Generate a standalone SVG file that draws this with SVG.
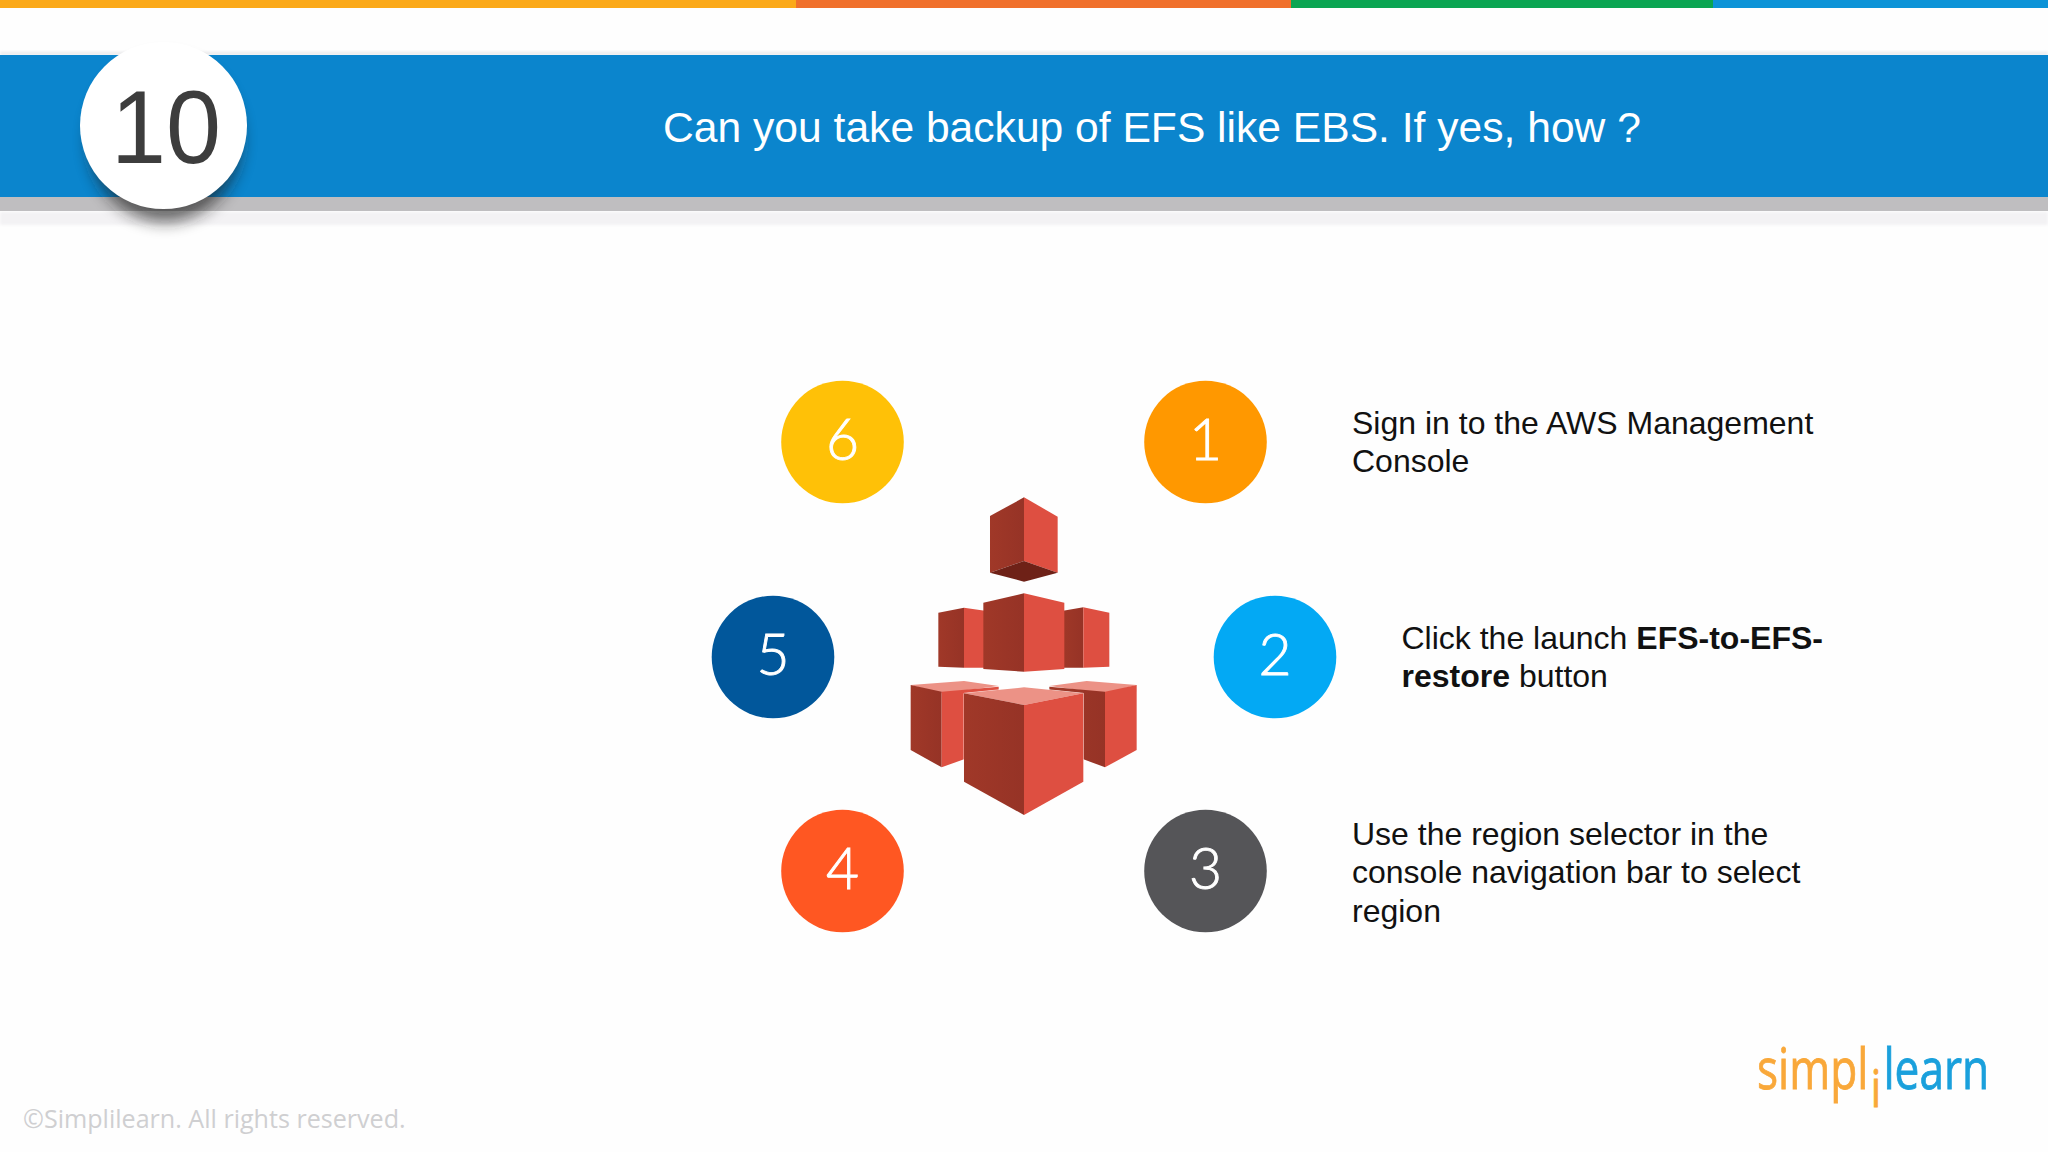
<svg xmlns="http://www.w3.org/2000/svg" width="2048" height="1152" viewBox="0 0 2048 1152">
<style>
.b{font-family:"Liberation Sans",Arial,sans-serif;font-size:32px;fill:#111}
.n{font-family:Lato,"Open Sans",sans-serif;font-size:57px;font-weight:300;fill:#fff;stroke:#fff;stroke-width:.9px;text-anchor:middle}
.l{fill:url(#lf)}.r{fill:#DE4F41}.t{fill:#EC9286}
</style>
<defs>
<linearGradient id="lf" x1="0" y1="0" x2="1" y2="0"><stop offset="0" stop-color="#A03828"/><stop offset="1" stop-color="#963326"/></linearGradient>
<filter id="s" x="-40%" y="-40%" width="180%" height="180%"><feGaussianBlur stdDeviation="8"/></filter>
<filter id="s2" x="-5%" y="-100%" width="110%" height="300%"><feGaussianBlur stdDeviation="1.5"/></filter>
</defs>
<rect width="2048" height="1152" fill="#fefefe"/>
<g id="stripes">
<rect x="0" y="0" width="796" height="8" fill="#FBA919"/>
<rect x="796" y="0" width="495" height="8" fill="#F0702C"/>
<rect x="1291" y="0" width="422" height="8" fill="#0BA552"/>
<rect x="1713" y="0" width="335" height="8" fill="#0D93D7"/>
</g>
<g id="header">
<rect x="0" y="52" width="2048" height="3" fill="#E8E8EA" filter="url(#s2)"/>
<rect x="0" y="212" width="2048" height="13" fill="#F3F2F4" filter="url(#s2)"/>
<rect x="0" y="197" width="2048" height="14" fill="#BFBEC0"/>
<rect x="0" y="55" width="2048" height="142" fill="#0B85CD"/>
<text x="1152" y="142" text-anchor="middle" font-family="Liberation Sans, Arial, sans-serif" font-size="42.6" fill="#fff">Can you take backup of EFS like EBS. If yes, how ?</text>
</g>
<g id="badge">
<ellipse cx="165" cy="140" rx="76" ry="82" fill="#1a1a1a" opacity=".65" filter="url(#s)"/>
<circle cx="163.500" cy="125.500" r="83.500" fill="#fff"/>
<text x="166" y="163" text-anchor="middle" font-family="Liberation Sans, Arial, sans-serif" font-size="104" fill="#3D3D3D" textLength="110" lengthAdjust="spacingAndGlyphs">10</text>
</g>
<g id="cubes" transform="translate(890 480) scale(.33333)">
<g id="cube-top">
<polygon class="l" points="402,52 300,108 300,278 402,243"/>
<polygon class="r" points="402,52 503,110 503,278 402,243"/>
<polygon fill="#6E2117" points="300,278 402,243 503,278 402,305"/>
</g>
<g id="cube-mid-left">
<polygon class="l" points="145,398 222,383 222,563 145,560"/>
<polygon class="r" points="222,383 290,393 290,563 222,563"/>
</g>
<g id="cube-mid-right">
<polygon class="l" points="515,393 580,382 580,563 515,563"/>
<polygon class="r" points="580,382 658,398 658,560 580,563"/>
</g>
<g id="cube-mid">
<polygon class="l" points="402,340 280,368 280,567 402,575"/>
<polygon class="r" points="402,340 523,368 523,567 402,575"/>
</g>
<g id="cube-low-left">
<polygon class="t" points="62,615 222,603 326,618 155,640"/>
<polygon class="l" points="62,615 155,635 155,862 62,810"/>
<polygon class="r" points="155,635 326,620 326,800 155,862"/>
</g>
<g id="cube-low-right">
<polygon class="t" points="478,618 590,603 740,615 645,640"/>
<polygon class="l" points="478,620 645,635 645,862 480,800"/>
<polygon class="r" points="645,635 740,615 740,810 645,862"/>
</g>
<g id="cube-low">
<polygon fill="#fff" points="222,640 402,622 580,640 580,905 402,1005 222,905" stroke="#fff" stroke-width="2"/>
<polygon class="t" points="222,640 402,622 580,640 402,675"/>
<polygon class="l" points="222,640 402,675 402,1005 222,905"/>
<polygon class="r" points="580,640 402,675 402,1005 580,905"/>
</g>
</g>
<g id="connectors"/>
<g id="node-1"><circle cx="1205.500" cy="442" r="61.300" fill="#FF9800"/><text class="n" x="1205.500" y="460">1</text>
<text class="b" x="1352" y="434">Sign in to the AWS Management</text><text class="b" x="1352" y="472">Console</text></g>
<g id="node-2"><circle cx="1275" cy="657" r="61.300" fill="#03A9F4"/><text class="n" x="1275" y="675">2</text>
<text class="b" x="1401.500" y="649">Click the launch <tspan font-weight="700">EFS-to-EFS-</tspan></text><text class="b" x="1401.500" y="687"><tspan font-weight="700">restore</tspan> button</text></g>
<g id="node-3"><circle cx="1205.500" cy="871" r="61.300" fill="#555558"/><text class="n" x="1205.500" y="889">3</text>
<text class="b" x="1352" y="845">Use the region selector in the</text><text class="b" x="1352" y="883">console navigation bar to select</text><text class="b" x="1352" y="922">region</text></g>
<g id="node-4"><circle cx="842.500" cy="871" r="61.300" fill="#FF5722"/><text class="n" x="842.500" y="889">4</text></g>
<g id="node-5"><circle cx="773" cy="657" r="61.300" fill="#01579B"/><text class="n" x="773" y="675">5</text></g>
<g id="node-6"><circle cx="842.500" cy="442" r="61.300" fill="#FFC107"/><text class="n" x="842.500" y="460">6</text></g>
<g id="logo">
<text transform="translate(1757 1089) scale(.79 1)" font-family="Open Sans, sans-serif" font-size="56" stroke-width=".8"><tspan fill="#F9A83A" stroke="#F9A83A">simpl</tspan><tspan x="144" dy="18" font-size="52" fill="#F9A83A" stroke="#F9A83A">i</tspan><tspan x="160" dy="-18" fill="#1AA0DC" stroke="#1AA0DC">learn</tspan></text>
</g>
<text id="copyright" x="23" y="1128" font-family="Open Sans, sans-serif" font-size="25.100" fill="#CFCFD1">©Simplilearn. All rights reserved.</text>
</svg>
